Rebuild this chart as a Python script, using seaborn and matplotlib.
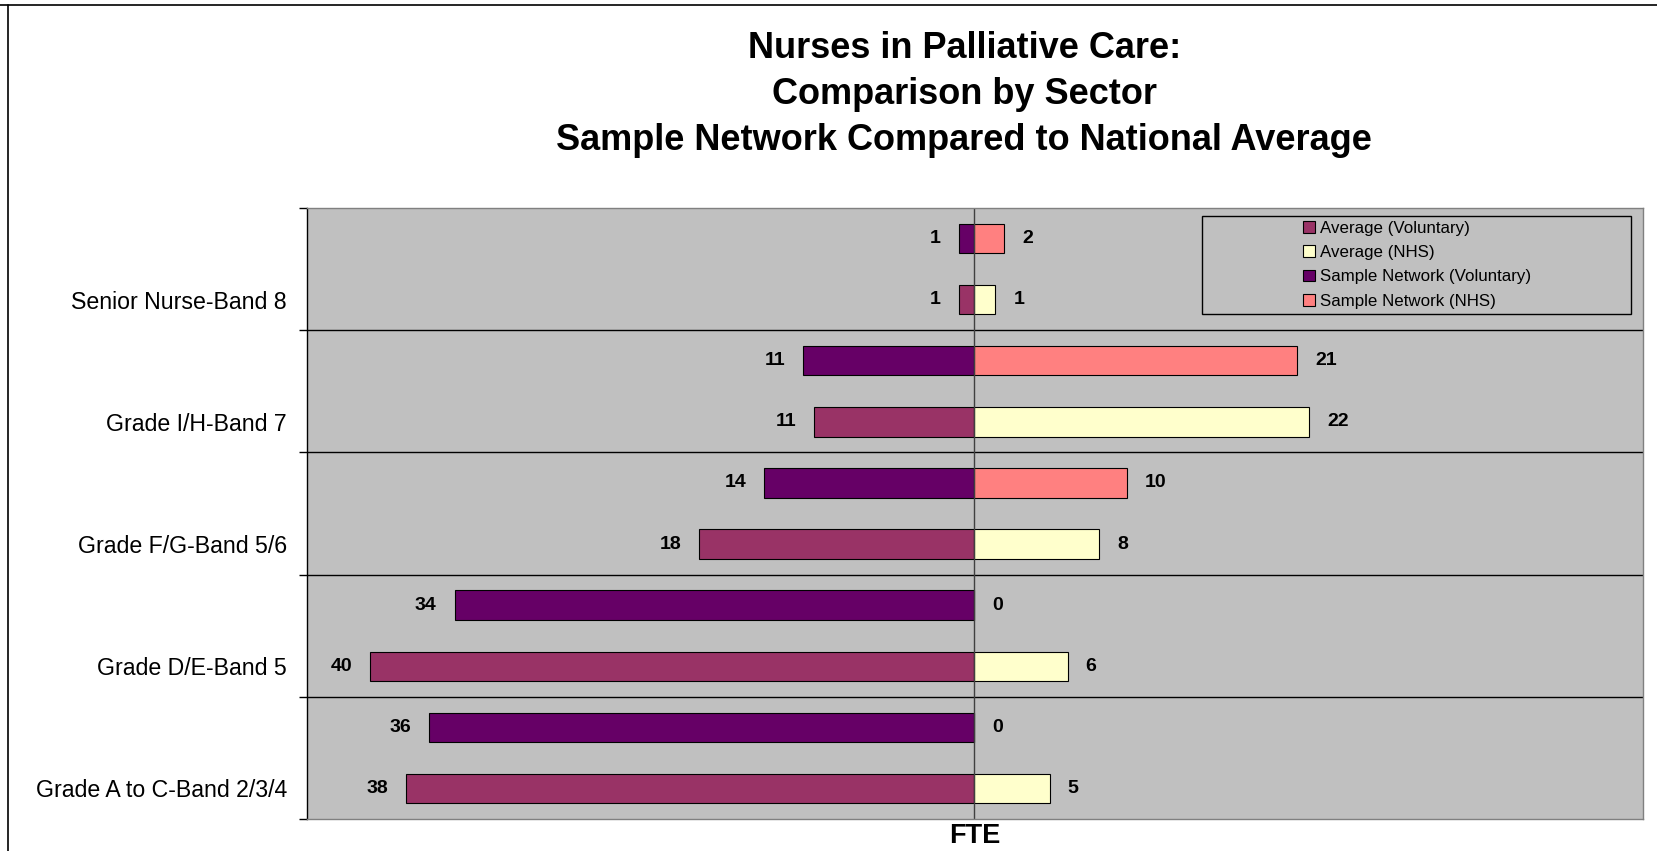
import numpy as np
import pandas as pd
import matplotlib.pyplot as plt
import seaborn as sns
from matplotlib.patches import Patch, Rectangle
from matplotlib.lines import Line2D

# categories, top to bottom
categories = ["Senior Nurse-Band 8", "Grade I/H-Band 7", "Grade F/G-Band 5/6",
              "Grade D/E-Band 5", "Grade A to C-Band 2/3/4"]

# FTE values
avg_vol = [1.0, 10.6, 18.2, 40.0, 37.6]
avg_nhs = [1.4, 22.2, 8.3, 6.2, 5.0]
sample_vol = [1.0, 11.3, 13.9, 34.4, 36.1]
sample_nhs = [2.0, 21.4, 10.1, 0.0, 0.0]

colors = {
    "Average (Voluntary)": "#993366",
    "Average (NHS)": "#FFFFCC",
    "Sample Network (Voluntary)": "#660066",
    "Sample Network (NHS)": "#FF8080",
}

vol = pd.DataFrame({
    "grade": categories * 2,
    "fte": [-v for v in sample_vol] + [-v for v in avg_vol],
    "series": ["Sample Network (Voluntary)"] * 5 + ["Average (Voluntary)"] * 5,
})
nhs = pd.DataFrame({
    "grade": categories * 2,
    "fte": sample_nhs + avg_nhs,
    "series": ["Sample Network (NHS)"] * 5 + ["Average (NHS)"] * 5,
})

sns.set_style("white")
plt.rcParams["font.family"] = ["Liberation Sans", "DejaVu Sans"]
plt.rcParams["text.color"] = "black"
plt.rcParams["axes.labelcolor"] = "black"
plt.rcParams["ytick.color"] = "black"
plt.rcParams["xtick.color"] = "black"

fig = plt.figure(figsize=(16.57, 8.51), dpi=100)
ax = fig.add_axes([0.185, 0.0376, 0.8066, 0.718])
ax.set_facecolor("#C0C0C0")

for df in (vol, nhs):
    order = list(dict.fromkeys(df["series"]))
    sns.barplot(data=df, y="grade", x="fte", hue="series", hue_order=order,
                order=categories, palette=[colors[s] for s in order],
                saturation=1, width=1.0, gap=0.52, dodge=True, errorbar=None,
                edgecolor="black", linewidth=0.8, legend=False, ax=ax)

# value labels (absolute FTE)
for cont in ax.containers:
    labels = [f"{abs(b.get_width()):.0f}" for b in cont]
    ax.bar_label(cont, labels=labels, padding=13, fontsize=14, fontweight="bold",
                 color="black")

ax.set_xlim(-44.2, 44.3)
ax.set_ylim(4.5, -0.5)
ax.axvline(0, color="#404040", lw=1.0, zorder=1.5)
for y in np.arange(1, 5) - 0.5:
    ax.axhline(y, color="black", lw=1.0, zorder=0.5)

ax.set_xticks([])
ax.set_yticks(np.arange(5) + 0.25, labels=categories, fontsize=16.7)
ax.set_yticks(np.arange(6) - 0.5, minor=True)
ax.tick_params(axis="y", which="major", length=0, pad=14)
ax.tick_params(axis="y", which="minor", length=6, width=1, color="black", direction="out", left=True)
ax.set_ylabel("")
ax.set_xlabel("FTE", fontsize=19.5, fontweight="bold", labelpad=3)

for side in ("top", "right", "bottom"):
    ax.spines[side].set_color("#808080")
    ax.spines[side].set_linewidth(1.0)
ax.spines["left"].set_color("black")
ax.spines["left"].set_linewidth(1.0)

# legend
handles = [Patch(facecolor=colors[k], edgecolor="black", linewidth=0.8) for k in colors]
leg = ax.legend(handles, list(colors), loc="center", bbox_to_anchor=(0.831, 0.907),
                frameon=False, fontsize=12.2, handlelength=0.7, handleheight=0.7,
                handletextpad=0.3, labelspacing=0.55, borderpad=0)
ax.add_patch(Rectangle((0.670, 0.826), 0.321, 0.161, transform=ax.transAxes,
                       fill=False, edgecolor="black", lw=1.0, zorder=5))

fig.text(0.582, 0.889,
         "Nurses in Palliative Care:\nComparison by Sector\nSample Network Compared to National Average",
         ha="center", va="center", fontsize=26, fontweight="bold", linespacing=1.42)

# outer frame lines (top and left)
fig.add_artist(Line2D([0, 1], [1 - 5 / 851, 1 - 5 / 851], color="black", lw=1.2, transform=fig.transFigure))
fig.add_artist(Line2D([8 / 1657, 8 / 1657], [0, 1 - 5 / 851], color="black", lw=1.2, transform=fig.transFigure))

fig.savefig("out.png", dpi=100)
